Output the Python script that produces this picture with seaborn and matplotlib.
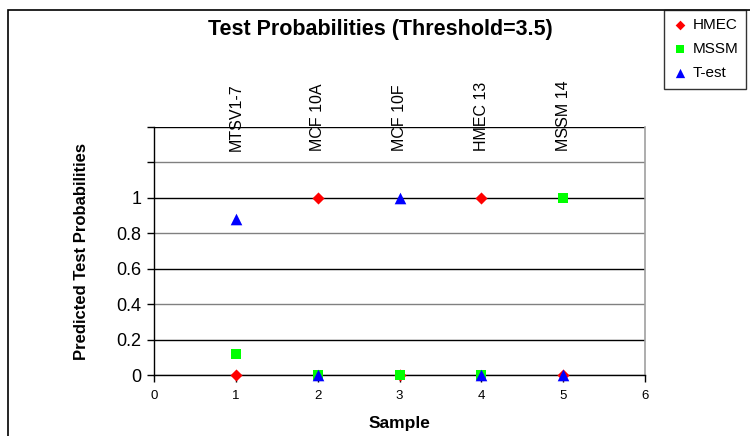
import matplotlib
matplotlib.use("Agg")
import matplotlib.pyplot as plt
import seaborn as sns
import pandas as pd
from matplotlib.ticker import FuncFormatter, MultipleLocator
from matplotlib.patches import Rectangle

samples = [1, 2, 3, 4, 5]
sample_names = ["MTSV1-7", "MCF 10A", "MCF 10F", "HMEC 13", "MSSM 14"]
hmec = [0.0, 1.0, 0.0, 1.0, 0.0]
mssm = [0.12, 0.0, 0.0, 0.0, 1.0]
test = [0.88, 0.0, 1.0, 0.0, 0.0]
series_names = ["HMEC", "MSSM", "T-est"]

df = pd.DataFrame({
    "Sample": samples * 3,
    "Prob": hmec + mssm + test,
    "Series": [s for s in series_names for _ in samples],
})

sns.set_style("white")
plt.rcParams["font.family"] = ["Liberation Sans", "DejaVu Sans"]
plt.rcParams["text.color"] = "black"
plt.rcParams["axes.labelcolor"] = "black"
plt.rcParams["xtick.color"] = "black"
plt.rcParams["ytick.color"] = "black"

fig = plt.figure(figsize=(7.5, 4.36), dpi=100)
ax = fig.add_axes([154/750, 1-375/436, (645-154)/750, (375-127)/436])

palette = {"HMEC": "#ff0000", "MSSM": "#00ff00", "T-est": "#0000ff"}
markers = {"HMEC": "D", "MSSM": "s", "T-est": "^"}
sizes = {"HMEC": 38, "MSSM": 55, "T-est": 70}
for name in series_names:
    sub = df[df["Series"] == name]
    sns.scatterplot(data=sub, x="Sample", y="Prob", color=palette[name],
                    marker=markers[name], s=sizes[name], linewidth=0,
                    ax=ax, label=name, zorder=3, clip_on=False)

ax.set_xlim(0, 6)
ax.set_ylim(0, 1.4)
ax.xaxis.set_major_locator(MultipleLocator(1))
ax.yaxis.set_major_locator(MultipleLocator(0.2))
ax.yaxis.set_major_formatter(FuncFormatter(lambda v, p: "" if v > 1.001 else ("%g" % round(v, 1))))
ax.tick_params(axis="y", direction="out", length=5, width=1, color="black",
               labelcolor="black", labelsize=13, left=True, pad=4)
ax.tick_params(axis="x", direction="out", length=5, width=1, color="black",
               labelcolor="black", labelsize=9.5, bottom=True, pad=6)

ax.grid(axis="y", zorder=0)
for i, gl in enumerate(ax.get_ygridlines()):
    gl.set_color("#000000" if i % 2 == 0 else "#808080")
    gl.set_linewidth(1.0)
ax.grid(axis="x", visible=False)
ax.set_axisbelow(True)

ax.spines["top"].set_visible(False)
ax.spines["right"].set_color("#a0a0a0")
ax.spines["right"].set_linewidth(1.2)
ax.spines["left"].set_color("black")
ax.spines["bottom"].set_color("black")
ax.spines["left"].set_linewidth(1)
ax.spines["bottom"].set_linewidth(1)

ax.set_xlabel("Sample", fontsize=12.5, fontweight="bold", labelpad=10, color="black")
ax.set_ylabel("Predicted Test Probabilities", fontsize=12, fontweight="bold", labelpad=20,
              color="black")

for xs, nm in zip(samples, sample_names):
    ax.text(xs, 1.265, nm, rotation=90, ha="center", va="bottom", fontsize=11.5,
            color="black", clip_on=False)

fig.text(380/750, 1-30/436, "Test Probabilities (Threshold=3.5)", ha="center",
         va="center", fontsize=15.5, fontweight="bold", color="black")

if ax.get_legend():
    ax.get_legend().remove()
handles, labels = ax.get_legend_handles_labels()
leg = fig.legend(handles, labels, loc="upper left", bbox_to_anchor=(664/750, 1-10/436),
                 frameon=True, fancybox=False, fontsize=11, handletextpad=0.3,
                 borderpad=0.55, labelspacing=0.65, handlelength=1.0,
                 borderaxespad=0, markerscale=0.8, labelcolor="black")
leg.get_frame().set_edgecolor("black")
leg.get_frame().set_linewidth(1)

# outer chart frame
fig.add_artist(Rectangle((8/750, -0.05), 1.2, 1-10/436 + 0.05, transform=fig.transFigure,
                         fill=False, edgecolor="black", linewidth=1.2, zorder=0))

fig.savefig("out.png", dpi=100)
